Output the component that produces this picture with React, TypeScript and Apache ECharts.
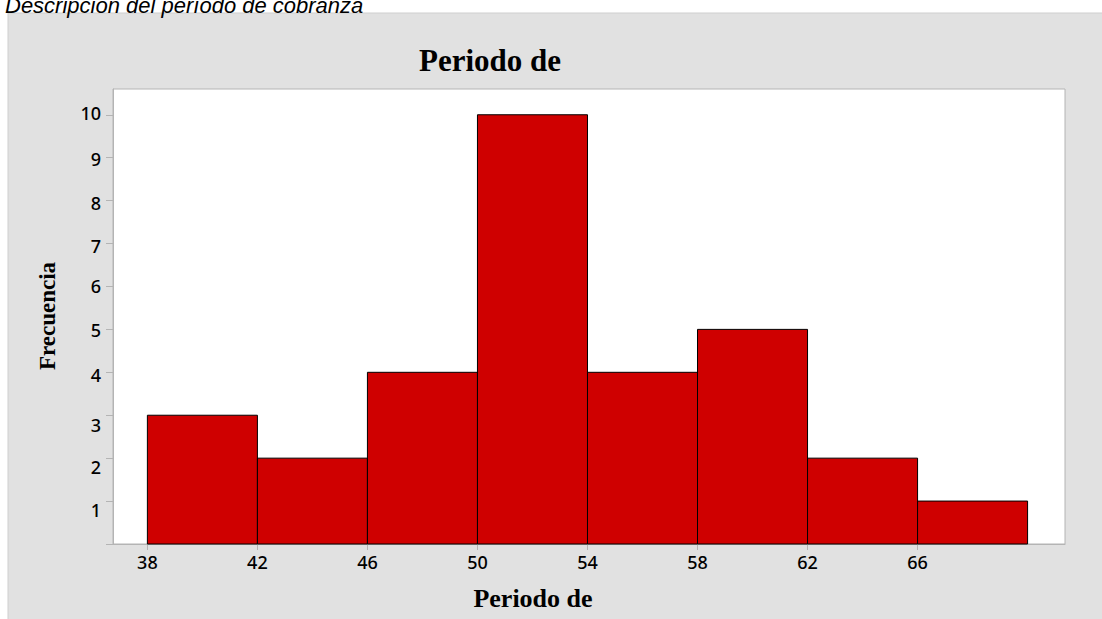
import React, { useEffect, useRef } from "react";
import * as echarts from "echarts";

// Histogram data
const binStarts = [38, 42, 46, 50, 54, 58, 62, 66];
const binEnds = [42, 46, 50, 54, 58, 62, 66, 70];
const frequencies = [3, 2, 4, 10, 4, 5, 2, 1];
const xTickValues = [38, 42, 46, 50, 54, 58, 62, 66];
const yTickLabels = ["0", "1", "2", "3", "4", "5", "6", "7", "8", "9", "10"];

const pageTitle = "Descripción del período de cobranza";
const chartTitle = "Periodo de";
const xAxisTitle = "Periodo de";
const yAxisTitle = "Frecuencia";

// small vertical offsets of the y labels as seen in the reference
const yLabelShift: Record<number, number> = { 10: -2, 9: 1, 8: 2, 7: 2, 6: 0, 5: 1, 4: 3, 3: 10, 2: 9, 1: 9 };

export default function App() {
  const ref = useRef<HTMLDivElement>(null);
  useEffect(() => {
    if (!ref.current) return;
    const chart = echarts.init(ref.current, undefined, { renderer: "svg" });
    const data = binStarts.map((s, i) => [s, binEnds[i], frequencies[i]]);
    const rich: Record<string, any> = {};
    for (let v = 1; v <= 10; v++) {
      const d = yLabelShift[v] || 0;
      rich["v" + v] = {
        fontFamily: "Noto Sans",
        fontSize: 18,
        fontWeight: 500,
        color: "#000",
        padding: d >= 0 ? [2 * d, 0, 0, 0] : [0, 0, -2 * d, 0],
      };
    }
    chart.setOption({
      animation: false,
      backgroundColor: "#ffffff",
      graphic: [
        {
          type: "rect",
          z: -10,
          silent: true,
          shape: { x: 8, y: 13, width: 1100, height: 620 },
          style: { fill: "#e1e1e1", stroke: "#cfcfcf", lineWidth: 1 },
        },
        {
          type: "text",
          x: 5,
          y: 16,
          style: {
            text: pageTitle,
            font: "italic 22px 'Liberation Sans', Arial, sans-serif",
            fill: "#000",
            textAlign: "left",
            textVerticalAlign: "bottom",
          },
        },
        {
          type: "text",
          x: 490,
          y: 60,
          style: {
            text: chartTitle,
            font: "bold 31px 'Liberation Serif', 'Times New Roman', serif",
            fill: "#000",
            textAlign: "center",
            textVerticalAlign: "middle",
          },
        },
        {
          type: "text",
          x: 533,
          y: 598,
          style: {
            text: xAxisTitle,
            font: "bold 26px 'Liberation Serif', 'Times New Roman', serif",
            fill: "#000",
            textAlign: "center",
            textVerticalAlign: "middle",
          },
        },
        {
          type: "text",
          x: 47,
          y: 316,
          rotation: Math.PI / 2,
          style: {
            text: yAxisTitle,
            font: "bold 23px 'Liberation Serif', 'Times New Roman', serif",
            fill: "#000",
            textAlign: "center",
            textVerticalAlign: "middle",
          },
        },
      ],
      grid: {
        left: 113,
        top: 89,
        right: 37,
        bottom: 75,
        show: true,
        backgroundColor: "#ffffff",
        borderColor: "#b4b4b4",
        borderWidth: 1,
      },
      xAxis: {
        type: "value",
        min: 36.75,
        max: 71.36,
        splitLine: { show: false },
        axisLine: { show: true, lineStyle: { color: "#b4b4b4", width: 1 } },
        axisTick: {
          show: true,
          customValues: xTickValues,
          length: 6,
          lineStyle: { color: "#b4b4b4" },
        },
        axisLabel: {
          customValues: xTickValues,
          margin: 9,
          fontFamily: "Noto Sans",
          fontSize: 18,
          fontWeight: 500,
          color: "#000",
        },
      },
      yAxis: {
        type: "value",
        min: 0,
        max: 10.6,
        interval: 1,
        splitLine: { show: false },
        axisLine: { show: true, lineStyle: { color: "#b4b4b4", width: 1 } },
        axisTick: { show: true, length: 7, lineStyle: { color: "#b4b4b4" } },
        axisLabel: {
          margin: 12,
          showMaxLabel: false,
          formatter: (v: number) => {
            if (v === 0 || v > 10) return "";
            return "{v" + v + "|" + yTickLabels[v] + "}";
          },
          rich,
        },
      },
      series: [
        {
          type: "custom",
          data,
          encode: { x: [0, 1], y: 2 },
          renderItem: (params: any, api: any) => {
            const p0 = api.coord([api.value(0), api.value(2)]);
            const p1 = api.coord([api.value(1), 0]);
            return {
              type: "rect",
              shape: { x: p0[0], y: p0[1], width: p1[0] - p0[0], height: p1[1] - p0[1] },
              style: { fill: "#cf0000", stroke: "#000000", lineWidth: 1 },
            };
          },
        },
      ],
    });
    return () => chart.dispose();
  }, []);
  return (
    <div
      ref={ref}
      style={{ position: "fixed", left: 0, top: 0, width: 1102, height: 619 }}
    />
  );
}
